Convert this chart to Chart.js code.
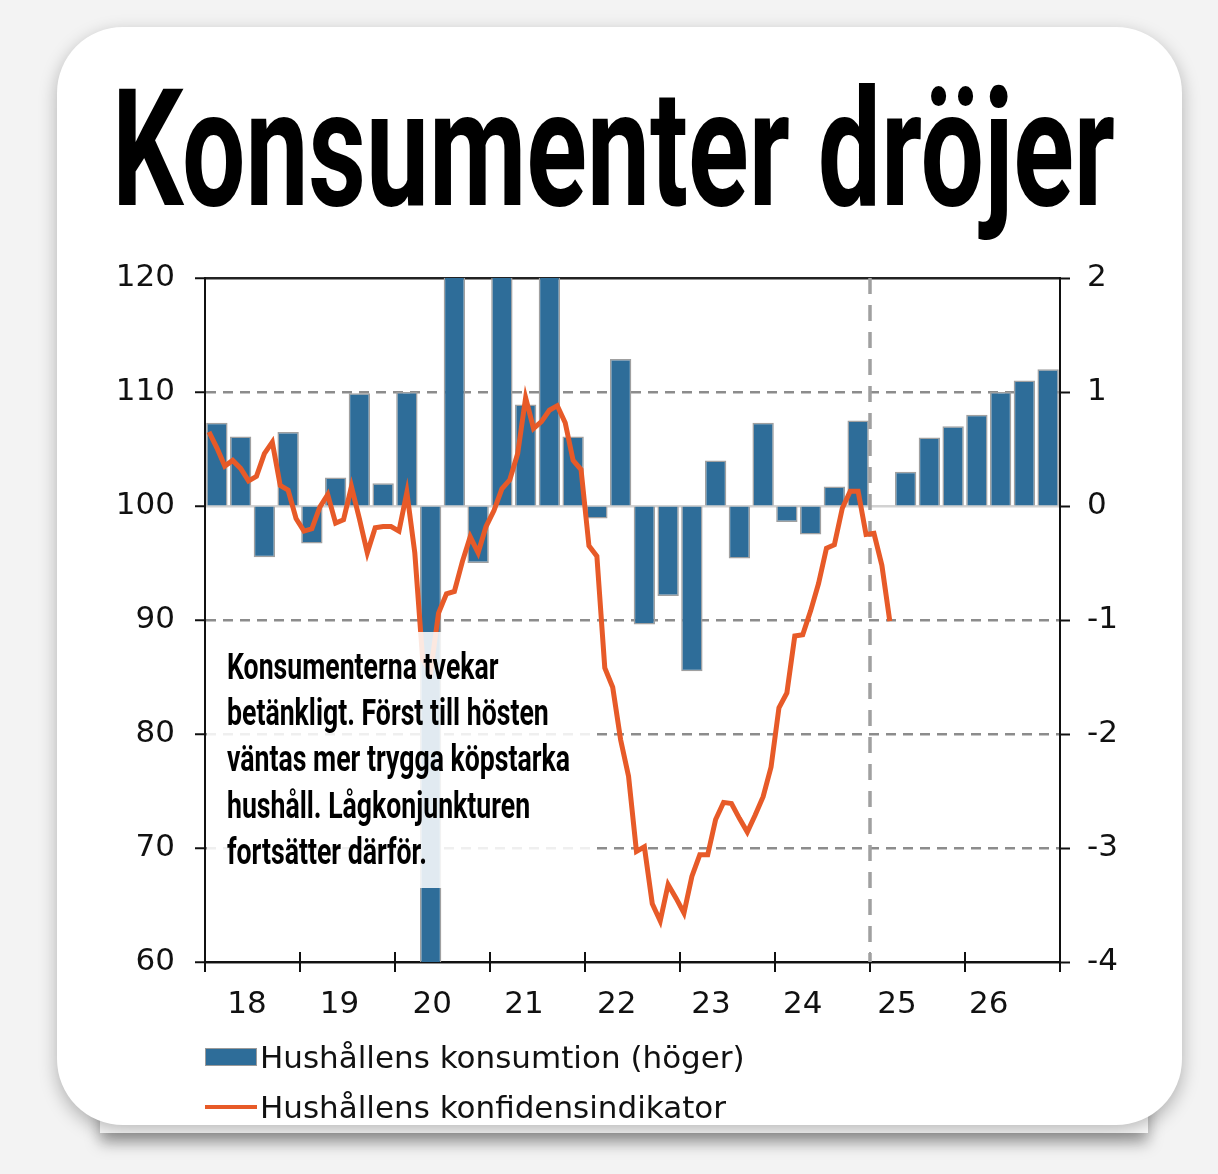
<!DOCTYPE html>
<html lang="sv">
<head>
<meta charset="UTF-8">
<title>Konsumenter dröjer</title>
<script src="https://cdn.jsdelivr.net/npm/chart.js"></script>
<style>
  html, body { margin: 0; padding: 0; }
  body { width: 1218px; height: 1174px; position: relative; overflow: hidden; background: #f3f3f3; font-family: "DejaVu Sans", Verdana, sans-serif; }
  #card { position: absolute; left: 57px; top: 27px; width: 1125px; height: 1098px; background: #fff; border-radius: 66px; box-shadow: 0 6px 18px rgba(0,0,0,0.28); z-index: 1; }
  #strip { position: absolute; left: 100px; top: 1040px; width: 1048px; height: 93px; background: #fff; box-shadow: 0 10px 14px rgba(0,0,0,0.35); z-index: 0; }
  #chart { position: absolute; left: 0; top: 0; z-index: 2; }
  #title { position: absolute; left: 112px; top: 67px; font: 700 164px/164px Roboto, sans-serif; color: #000; white-space: nowrap; transform-origin: 0 0; z-index: 3; }
  #note { position: absolute; left: 207px; top: 632px; width: 390px; height: 256px; background: rgba(255,255,255,0.86); z-index: 3; }
  #note .txt { position: absolute; left: 20px; top: 11.5px; font: 700 36px/46.4px Roboto, sans-serif; color: #000; white-space: nowrap; transform-origin: 0 0; }
  .leg { position: absolute; left: 260px; font-size: 31px; line-height: 36px; color: #111; white-space: nowrap; z-index: 3; }
  .sw { position: absolute; z-index: 3; box-sizing: border-box; }
</style>
</head>
<body>
<div id="strip"></div>
<div id="card"></div>
<div id="title"><span>Konsumenter dröjer</span></div>
<canvas id="chart" width="1218" height="1174"></canvas>
<div id="note"><div class="txt"><span>Konsumenterna tvekar</span><br><span>betänkligt. Först till hösten</span><br><span id="widest">väntas mer trygga köpstarka</span><br><span>hushåll. Lågkonjunkturen</span><br><span>fortsätter därför.</span></div></div>
<div class="sw" id="swBar" style="left:205px; top:1048px; width:52px; height:18px;"></div>
<div class="leg" style="top:1039px;">Hushållens konsumtion (höger)</div>
<div class="sw" id="swLine" style="left:205px; top:1105px; width:52px; height:4px;"></div>
<div class="leg" style="top:1089px;">Hushållens konfidensindikator</div>
<script>
// årtal på x-axeln och var etiketterna står (månader från jan 2018)
const yearLabels = ['18', '19', '20', '21', '22', '23', '24', '25', '26'];
const yearLabelPos = [5.3, 17.0, 28.7, 40.3, 52.0, 63.9, 75.5, 87.4, 99.0];
const yearStarts = [0, 12, 24, 36, 48, 60, 72, 84, 96, 108];
const forecastStart = 84;

// hushållens konsumtion, kvartal 2018K1-2026K4 (höger axel)
const konsumtion = [0.73, 0.61, -0.45, 0.65, -0.33, 0.25, 0.99, 0.20,
                    1.00, -7.5, 5.0, -0.50, 2.8, 0.89, 2.6, 0.61,
                    -0.11, 1.29, -1.04, -0.79, -1.45, 0.40, -0.46, 0.73,
                    -0.14, -0.25, 0.17, 0.75, 0.00, 0.30, 0.60, 0.70,
                    0.80, 1.00, 1.10, 1.20];

// konfidensindikatorn, månad jan 2018 - mar 2025 (vänster axel)
const konfidens = [106.5, 105.1, 103.5, 104.0, 103.3, 102.2, 102.6, 104.6, 105.6, 101.8, 101.4, 98.9,
                   97.8, 98.0, 99.9, 101.0, 98.5, 98.8, 101.7, 98.9, 95.9, 98.1, 98.2, 98.2,
                   97.8, 101.2, 95.9, 86.5, 85.5, 90.6, 92.3, 92.5, 95.1, 97.3, 95.9, 98.2,
                   99.6, 101.5, 102.3, 104.6, 109.5, 106.8, 107.4, 108.4, 108.8, 107.3, 104.0, 103.2,
                   96.5, 95.6, 85.8, 84.1, 79.5, 76.3, 69.7, 70.1, 65.1, 63.6, 66.8, 65.6,
                   64.3, 67.5, 69.4, 69.4, 72.5, 74.0, 73.9, 72.6, 71.4, 72.9, 74.5, 77.1,
                   82.3, 83.6, 88.6, 88.7, 90.8, 93.2, 96.3, 96.6, 99.8, 101.3, 101.3, 97.5,
                   97.6, 94.8, 89.9];

const barColor = '#2e6d99';
const lineColor = '#e75a28';

document.getElementById('swBar').style.cssText += 'background:' + barColor + '; border:1px solid #9a9a9a;';
document.getElementById('swLine').style.background = lineColor;

Chart.defaults.font.family = '"DejaVu Sans", Verdana, sans-serif';
Chart.defaults.font.size = 31;
Chart.defaults.color = '#111';

function gridColor(ctx) {
    if (!ctx.tick) return '#222';
    const v = ctx.tick.value;
    if (v === 120 || v === 60) return '#222';
    if (v === 100) return '#d2d2d2';
    return '#8c8c8c';
}
function gridDash(ctx) {
    if (!ctx.tick) return [];
    const v = ctx.tick.value;
    return (v === 120 || v === 60 || v === 100) ? [] : [10, 7];
}

const axisExtras = {
    id: 'axisExtras',
    beforeDatasetsDraw(chart) {
        const {ctx, chartArea: a, scales: {x}} = chart;
        const px = x.getPixelForValue(forecastStart);
        ctx.save();
        ctx.strokeStyle = '#a0a0a0';
        ctx.lineWidth = 3.5;
        ctx.setLineDash([16, 11]);
        ctx.beginPath();
        ctx.moveTo(px, a.top);
        ctx.lineTo(px, a.bottom);
        ctx.stroke();
        ctx.restore();
    },
    afterDraw(chart) {
        const {ctx, chartArea: a, scales: {x}} = chart;
        ctx.save();
        ctx.lineWidth = 2;
        for (const m of yearStarts) {
            const px = x.getPixelForValue(m);
            ctx.strokeStyle = m === forecastStart ? '#a0a0a0' : '#111';
            ctx.beginPath(); ctx.moveTo(px, a.bottom - 10); ctx.lineTo(px, a.bottom); ctx.stroke();
            ctx.strokeStyle = '#111';
            ctx.beginPath(); ctx.moveTo(px, a.bottom); ctx.lineTo(px, a.bottom + 10); ctx.stroke();
        }
        ctx.restore();
    }
};

new Chart(document.getElementById('chart'), {
    type: 'bar',
    data: {
        datasets: [{
            type: 'line',
            label: 'Hushållens konfidensindikator',
            data: konfidens.map((v, i) => ({x: i + 0.5, y: v})),
            yAxisID: 'y',
            borderColor: lineColor,
            borderWidth: 5,
            pointRadius: 0,
            tension: 0,
            order: 0
        }, {
            type: 'bar',
            label: 'Hushållens konsumtion (höger)',
            data: konsumtion.map((v, i) => ({x: i * 3 + 1.5, y: v})),
            yAxisID: 'y2',
            backgroundColor: barColor,
            borderColor: '#a0a0a0',
            borderWidth: 1.5,
            barPercentage: 0.9,
            categoryPercentage: 1,
            clip: 0,
            order: 1
        }]
    },
    options: {
        responsive: false,
        animation: false,
        layout: { padding: { top: 278, bottom: 142, left: 0, right: 0 } },
        plugins: { legend: { display: false }, tooltip: { enabled: false } },
        scales: {
            x: {
                type: 'linear',
                min: 0,
                max: 108,
                offset: false,
                afterFit(s) { s.height = 70; },
                afterBuildTicks(s) { s.ticks = yearLabelPos.map(v => ({value: v})); },
                ticks: {
                    autoSkip: false,
                    maxRotation: 0,
                    padding: 24,
                    callback: (v, i) => yearLabels[i]
                },
                grid: { display: false, drawTicks: false },
                border: { display: true, color: '#111', width: 2 }
            },
            y: {
                position: 'left',
                min: 60,
                max: 120,
                afterFit(s) { s.width = 205; },
                ticks: { stepSize: 10, padding: 20, callback: v => String(v) },
                grid: {
                    color: gridColor,
                    lineWidth: 2.5,
                    tickColor: '#111',
                    tickLength: 10,
                    tickWidth: 2,
                    tickBorderDash: []
                },
                border: { display: true, color: '#111', width: 2, dash: gridDash }
            },
            y2: {
                position: 'right',
                min: -4,
                max: 2,
                afterFit(s) { s.width = 158; },
                ticks: { stepSize: 1, padding: 17, callback: v => String(v) },
                grid: { drawOnChartArea: false, tickColor: '#111', tickLength: 10, tickWidth: 2 },
                border: { display: true, color: '#111', width: 2 }
            }
        }
    },
    plugins: [axisExtras]
});

// kondenserad rubrik och textruta, anpassad till bredden i originalet
function fit() {
    const title = document.getElementById('title');
    const tw = title.firstChild.getBoundingClientRect().width;
    title.style.transform = 'scaleX(' + (1003 / tw) + ')';
    const txt = document.querySelector('#note .txt');
    const ww = document.getElementById('widest').getBoundingClientRect().width;
    txt.style.transform = 'scaleX(' + (343 / ww) + ')';
}
fit();
</script>
</body>
</html>
